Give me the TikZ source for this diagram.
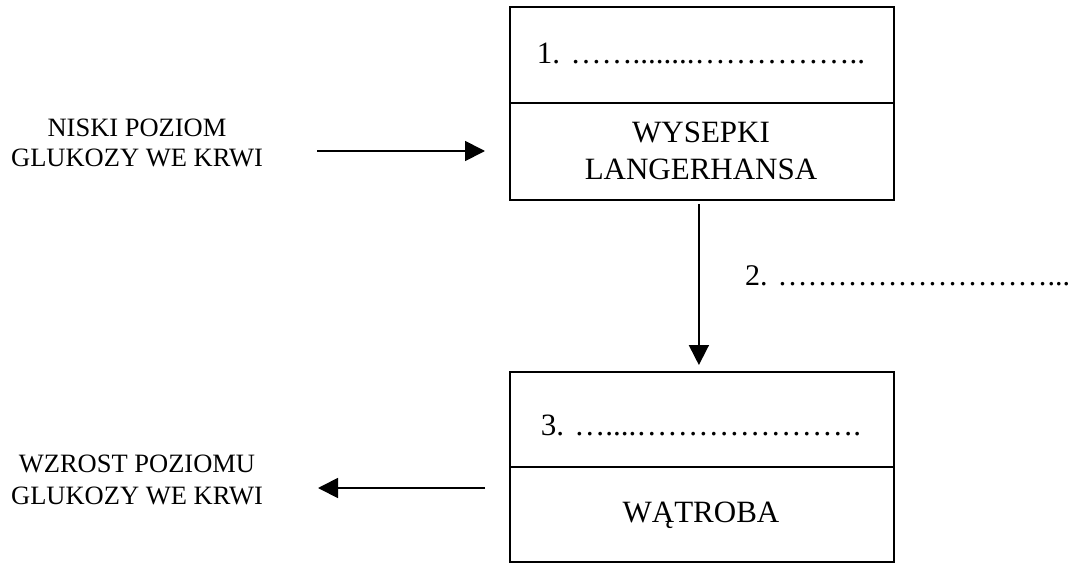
\documentclass[tikz,border=0pt]{standalone}
\usepackage{fontspec}
\setmainfont{Liberation Serif}
\usetikzlibrary{arrows.meta}
\newcommand\boxfont{\fontsize{31}{37}\selectfont}
\newcommand\sidefont{\fontsize{26.5}{30}\selectfont}
\begin{document}
\begin{tikzpicture}[x=1pt,y=-1pt,
  boxpart/.style={draw, line width=1.8pt, minimum width=384pt, inner sep=0pt, anchor=north west},
  boxtext/.style={font=\boxfont, inner sep=0pt, align=center},
  sidetext/.style={font=\sidefont, inner sep=0pt, align=center},
  arr/.style={line width=1.8pt, -{Triangle[length=20pt,width=20pt]}}
]
\useasboundingbox (0,0) rectangle (1075,562);
% top box
\node[boxpart, minimum height=96pt] (t1) at (509,6) {};
\node[boxpart, minimum height=97pt] (t2) at (509,102) {};
% bottom box
\node[boxpart, minimum height=95pt] (b1) at (509,371) {};
\node[boxpart, minimum height=95pt] (b2) at (509,466) {};
% texts in boxes
\node[boxtext, anchor=base] (l1) at (701,63) {1. ……........……………..};
\node[boxtext] (l2) at (701,151.3) {WYSEPKI\\LANGERHANSA};
\node[boxtext, anchor=base] (l3) at (701,435) {3. …....………………….};
\node[boxtext, anchor=base] (l4) at (701,522) {WĄTROBA};
% side texts
\node[sidetext] (niski) at (137,143) {NISKI POZIOM\\GLUKOZY WE KRWI};
\node[sidetext, font=\fontsize{26.5}{32}\selectfont] (wzrost) at (137,480) {WZROST POZIOMU\\GLUKOZY WE KRWI};
\node[font=\fontsize{30}{36}\selectfont, inner sep=0pt, anchor=base west] (l2b) at (745,285) {2. ………………………...};
% arrows
\coordinate (r1) at (317,151);
\coordinate (r3) at (318,488);
\draw[arr, shorten >=24pt] (r1) -- (r1 -| t2.west);
\draw[arr, shorten <=24pt] (r3 -| b2.west) -- (r3);
\draw[arr, shorten <=3pt, shorten >=6pt] ([xshift=-3pt]t2.south) -- ([xshift=-3pt]b1.north);
\end{tikzpicture}
\end{document}
